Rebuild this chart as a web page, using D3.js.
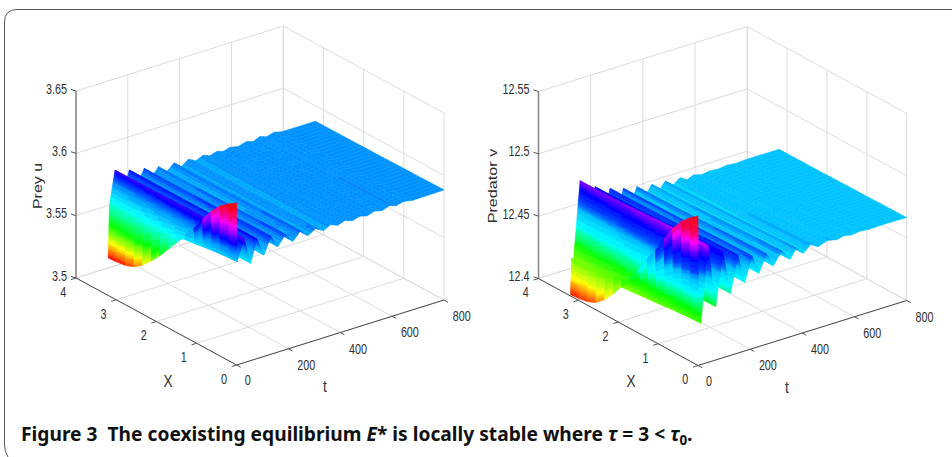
<!DOCTYPE html>
<html>
<head>
<meta charset="utf-8">
<script src="https://cdn.jsdelivr.net/npm/d3@7"></script>
<style>
    html, body { margin: 0; padding: 0; background: #fff; }
    svg { display: block; }
</style>
</head>
<body>
<svg id="figure" width="952" height="457"></svg>
<script>
// tick values of both plots
let xTicks = [0, 1, 2, 3, 4];
let tTicks = [0, 200, 400, 600, 800];
let preyTicks = [3.5, 3.55, 3.6, 3.65];
let predatorTicks = [12.4, 12.45, 12.5, 12.55];

// X grid of the surface and the shape of the profile between the two edges
let xNodes = [0, 0.213, 0.427, 0.64, 0.853, 1.067, 1.28, 1.493, 1.707, 1.92, 2.133, 2.347, 2.56, 2.773, 2.987, 3.2];
let xProfile = [0, 0.045, 0.1, 0.18, 0.28, 0.39, 0.48, 0.58, 0.67, 0.76, 0.84, 0.91, 0.96, 0.985, 0.995, 1];

// prey u: values read along the far edge (X = 3.2) and near edge (X = 0)
let preyFarT = [0, 5, 26.6, 54, 82, 110, 139, 166, 194, 224, 254, 282, 310, 338, 366, 393, 420, 445, 470, 502, 534, 560, 586, 612, 640, 670, 800];
let preyFarU = [3.53, 3.5724, 3.5988, 3.577, 3.5953, 3.58, 3.5929, 3.5832, 3.5906, 3.5842, 3.5897, 3.5848, 3.589, 3.586, 3.5885, 3.5865, 3.5882, 3.5866, 3.5882, 3.5868, 3.5886, 3.587, 3.5892, 3.5874, 3.5892, 3.5876, 3.5876];
let preyNearT = [0, 2, 28, 54, 78, 105.5, 132, 159, 188, 217, 246, 275, 304, 335, 362, 390, 418, 447, 475, 503, 532, 560, 590, 615, 645, 680, 800];
let preyNearU = [3.63, 3.5826, 3.6, 3.578, 3.596, 3.5813, 3.5946, 3.5845, 3.5925, 3.585, 3.5915, 3.5858, 3.5895, 3.586, 3.589, 3.5866, 3.5886, 3.5866, 3.5884, 3.5868, 3.5888, 3.5872, 3.5894, 3.5876, 3.5892, 3.5878, 3.5883];

// predator v: same reading as above
let predatorFarT = [0, 5, 11, 37, 66, 95, 124, 152, 178, 203, 229, 255, 284, 312, 338, 363, 392, 420, 446, 471, 503, 535, 567, 599, 635, 670, 800];
let predatorFarV = [12.401, 12.43, 12.426, 12.49, 12.442, 12.4814, 12.449, 12.4764, 12.454, 12.4731, 12.458, 12.471, 12.4605, 12.4692, 12.4615, 12.4685, 12.463, 12.4675, 12.464, 12.4663, 12.4645, 12.4655, 12.4648, 12.4658, 12.465, 12.4655, 12.4655];
let predatorNearT = [0, 3, 11.5, 38, 68, 96, 125, 153, 180, 207, 234, 262, 289, 321, 353, 378, 404, 432, 461, 496, 532, 560, 589, 620, 659, 700, 800];
let predatorNearV = [12.52, 12.455, 12.4331, 12.494, 12.4428, 12.485, 12.4497, 12.4786, 12.455, 12.4745, 12.4587, 12.4725, 12.4612, 12.471, 12.4622, 12.4695, 12.4637, 12.469, 12.4652, 12.468, 12.4662, 12.4675, 12.4663, 12.4672, 12.4665, 12.4668, 12.4665];

let preyColorZ = [3.53, 3.5425, 3.556, 3.576, 3.5882, 3.609, 3.617, 3.626];
let preyColorAt = [0, 0.167, 0.33, 0.5, 0.57, 0.83, 0.93, 1];
let predatorColorZ = [12.4, 12.415, 12.44, 12.4553, 12.467, 12.473, 12.4826, 12.49, 12.496, 12.505, 12.52];
let predatorColorAt = [0, 0.167, 0.33, 0.5, 0.54, 0.62, 0.667, 0.75, 0.83, 0.95, 1];

let svg = d3.select('#figure');
let fontTicks = '"Liberation Sans", Arial, sans-serif';
let gridColor = '#dcdcdc';
let axisColor = '#4a4a4a';

// small blur, the reference is a soft raster
let defs = svg.append('defs');
defs.append('filter').attr('id', 'soft')
    .attr('x', '-5%').attr('y', '-5%').attr('width', '110%').attr('height', '110%')
    .append('feGaussianBlur').attr('stdDeviation', 0.4);

// hsv colormap with 64 levels, same as matlab
function hsvLevel(value) {
    let level = Math.min(63, Math.max(0, Math.floor(value * 64)));
    return d3.hsl((level + 0.5) / 64 * 360, 1, 0.5).formatHex();
}

function put_text(g, str, x, y, size, sx, sy, anchor, rotate) {
    let tr = 'translate(' + x + ',' + y + ')';
    if (rotate) tr += ' rotate(' + rotate + ')';
    tr += ' scale(' + sx + ',' + sy + ')';
    return g.append('text')
        .attr('transform', tr)
        .attr('text-anchor', anchor)
        .attr('dominant-baseline', 'central')
        .attr('font-family', fontTicks)
        .attr('font-size', size)
        .attr('fill', '#303030')
        .text(str);
}

// draw one plot: box, grid, surface, labels
function draw_plot(cfg) {
    let g = svg.append('g').attr('id', cfg.id);

    // linear scales per screen direction, orthographic view
    let tx = d3.scaleLinear().domain([0, 800]).range([0, cfg.tRun[0]]);
    let ty = d3.scaleLinear().domain([0, 800]).range([0, cfg.tRun[1]]);
    let xx = d3.scaleLinear().domain([0, 4]).range([0, cfg.xRun[0]]);
    let xy = d3.scaleLinear().domain([0, 4]).range([0, cfg.xRun[1]]);
    let zy = d3.scaleLinear().domain(cfg.zDomain).range([0, -cfg.zRun]);
    let colorScale = d3.scaleLinear().domain(cfg.colorZ).range(cfg.colorAt).clamp(true);

    function project(X, t, z) {
        return [cfg.origin[0] + tx(t) + xx(X), cfg.origin[1] + ty(t) + xy(X) + zy(z)];
    }
    let zMin = cfg.zDomain[0], zMax = cfg.zDomain[1];

    function seg(a, b, color, width) {
        g.append('line')
            .attr('x1', a[0]).attr('y1', a[1])
            .attr('x2', b[0]).attr('y2', b[1])
            .attr('stroke', color)
            .attr('stroke-width', width);
    }

    // grid on the floor and on the two back walls
    tTicks.forEach(function (t) {
        seg(project(0, t, zMin), project(4, t, zMin), gridColor, 1);
        seg(project(4, t, zMin), project(4, t, zMax), gridColor, 1);
    });
    xTicks.forEach(function (X) {
        seg(project(X, 0, zMin), project(X, 800, zMin), gridColor, 1);
        seg(project(X, 800, zMin), project(X, 800, zMax), gridColor, 1);
    });
    cfg.zTicks.forEach(function (z) {
        seg(project(4, 0, z), project(4, 800, z), gridColor, 1);
        seg(project(4, 800, z), project(0, 800, z), gridColor, 1);
    });

    // surface, painted from the far columns to the near ones
    let surface = g.append('g').attr('class', 'surface').attr('filter', 'url(#soft)');
    for (let c = cfg.farT.length - 2; c >= 0; c--) {
        for (let i = xNodes.length - 2; i >= 0; i--) {
            let corner = function (ci, xi) {
                let p = xProfile[xi];
                return {
                    X: xNodes[xi],
                    t: cfg.nearT[ci] + (cfg.farT[ci] - cfg.nearT[ci]) * xNodes[xi] / 3.2,
                    z: cfg.nearU[ci] + (cfg.farU[ci] - cfg.nearU[ci]) * p
                };
            };
            let a = corner(c, i), b = corner(c, i + 1), d = corner(c + 1, i), e = corner(c + 1, i + 1);
            // split the cell so that the colour bands show up
            let dz = Math.max(Math.abs(a.z - d.z), Math.abs(b.z - e.z), Math.abs(a.z - b.z), Math.abs(d.z - e.z));
            let nT = Math.max(1, Math.min(40, Math.ceil(dz * cfg.zRun / (zMax - zMin) / 2)));
            let nX = c < cfg.wallColumns ? 1 : 2;
            for (let s = nT - 1; s >= 0; s--) {
                for (let r = nX - 1; r >= 0; r--) {
                    let at = function (su, ru) {
                        let m = function (key) {
                            let lo = a[key] + (b[key] - a[key]) * ru;
                            let hi = d[key] + (e[key] - d[key]) * ru;
                            return lo + (hi - lo) * su;
                        };
                        return { X: m('X'), t: m('t'), z: m('z') };
                    };
                    let q = [at(s / nT, r / nX), at(s / nT, (r + 1) / nX), at((s + 1) / nT, (r + 1) / nX), at((s + 1) / nT, r / nX)];
                    let pts = q.map(function (o) { return project(o.X, o.t, o.z); });
                    let color = hsvLevel(colorScale(d3.mean(q, function (o) { return o.z; })));
                    surface.append('path')
                        .attr('d', d3.line()(pts) + 'Z')
                        .attr('fill', color)
                        .attr('stroke', color)
                        .attr('stroke-width', 0.5);
                }
            }
        }
    }

    // the three visible axes
    seg(project(4, 0, zMin), project(4, 0, zMax), '#8a8a8a', 1.6);
    seg(project(4, 0, zMin), project(0, 0, zMin), axisColor, 1);
    seg(project(0, 0, zMin), project(0, 800, zMin), axisColor, 1);

    // ticks and their labels
    cfg.zTicks.forEach(function (z, i) {
        let p = project(4, 0, z);
        seg(p, [p[0] - 5, p[1] - 1.6], '#555', 1);
        put_text(g, cfg.zLabels[i], p[0] - 9, p[1] - 2.5, 15, 0.72, 1, 'end');
    });
    xTicks.forEach(function (X) {
        let p = project(X, 0, zMin);
        seg(p, [p[0] - 5, p[1] + 1.6], '#555', 1);
        put_text(g, String(X), p[0] - 12.7, p[1] + 13.6, 15, 0.72, 1, 'middle');
    });
    tTicks.forEach(function (t) {
        let p = project(0, t, zMin);
        seg(p, [p[0] + 4, p[1] + 2.2], '#555', 1);
        put_text(g, String(t), p[0] + (t === 0 ? 11 : 17.7), p[1] + (t === 0 ? 15 : 16), 15, 0.72, 1, 'middle');
    });

    // axis titles
    put_text(g, 'X', cfg.xTitle[0], cfg.xTitle[1], 16, 0.85, 1, 'middle');
    put_text(g, 't', cfg.tTitle[0], cfg.tTitle[1], 16, 0.85, 1, 'middle');
    put_text(g, cfg.zTitle, cfg.zTitlePos[0], cfg.zTitlePos[1], 12, cfg.zTitleStretch, 1, 'middle', -90);
}

draw_plot({
    id: 'g-prey',
    origin: [236.7, 365],
    tRun: [207.3, -65],
    xRun: [-160.7, -87],
    zRun: 187,
    zDomain: [3.5, 3.65],
    colorZ: preyColorZ,
    colorAt: preyColorAt,
    zTicks: preyTicks,
    zLabels: ['3.5', '3.55', '3.6', '3.65'],
    farT: preyFarT, farU: preyFarU, nearT: preyNearT, nearU: preyNearU,
    wallColumns: 1,
    xTitle: [168, 382],
    tTitle: [325, 387],
    zTitle: 'Prey u',
    zTitlePos: [37.5, 186],
    zTitleStretch: 1.33
});

draw_plot({
    id: 'g-predator',
    origin: [698, 365.5],
    tRun: [208.7, -65],
    xRun: [-159.5, -87],
    zRun: 187,
    zDomain: [12.4, 12.55],
    colorZ: predatorColorZ,
    colorAt: predatorColorAt,
    zTicks: predatorTicks,
    zLabels: ['12.4', '12.45', '12.5', '12.55'],
    farT: predatorFarT, farU: predatorFarV, nearT: predatorNearT, nearU: predatorNearV,
    wallColumns: 2,
    xTitle: [631, 382],
    tTitle: [787, 388],
    zTitle: 'Predator v',
    zTitlePos: [493, 186],
    zTitleStretch: 1.35
});

// frame round the figure
svg.append('path')
    .attr('d', 'M952,9.5 H17 Q4.5,9.5 4.5,22 V445 Q4.5,452 8,457')
    .attr('fill', 'none')
    .attr('stroke', '#5a5a5a')
    .attr('stroke-width', 1);

// caption
let caption = svg.append('text')
    .attr('font-family', '"Noto Sans", sans-serif')
    .attr('font-weight', 700)
    .attr('font-size', 20)
    .attr('fill', '#111');
caption.append('tspan').text('Figure 3\u00a0\u00a0The coexisting equilibrium ');
caption.append('tspan').attr('font-style', 'italic').text('E');
caption.append('tspan').text('* is locally stable where ');
caption.append('tspan').attr('font-style', 'italic').text('\u03c4');
caption.append('tspan').text(' = 3 < ');
caption.append('tspan').attr('font-style', 'italic').text('\u03c4');
caption.append('tspan').attr('font-size', 14).attr('dy', 4).text('0');
caption.append('tspan').attr('dy', -4).text('.');
let captionWidth = caption.node().getComputedTextLength();
caption.attr('transform', 'translate(21,441) scale(' + (672 / captionWidth) + ',1)');
</script>
</body>
</html>
